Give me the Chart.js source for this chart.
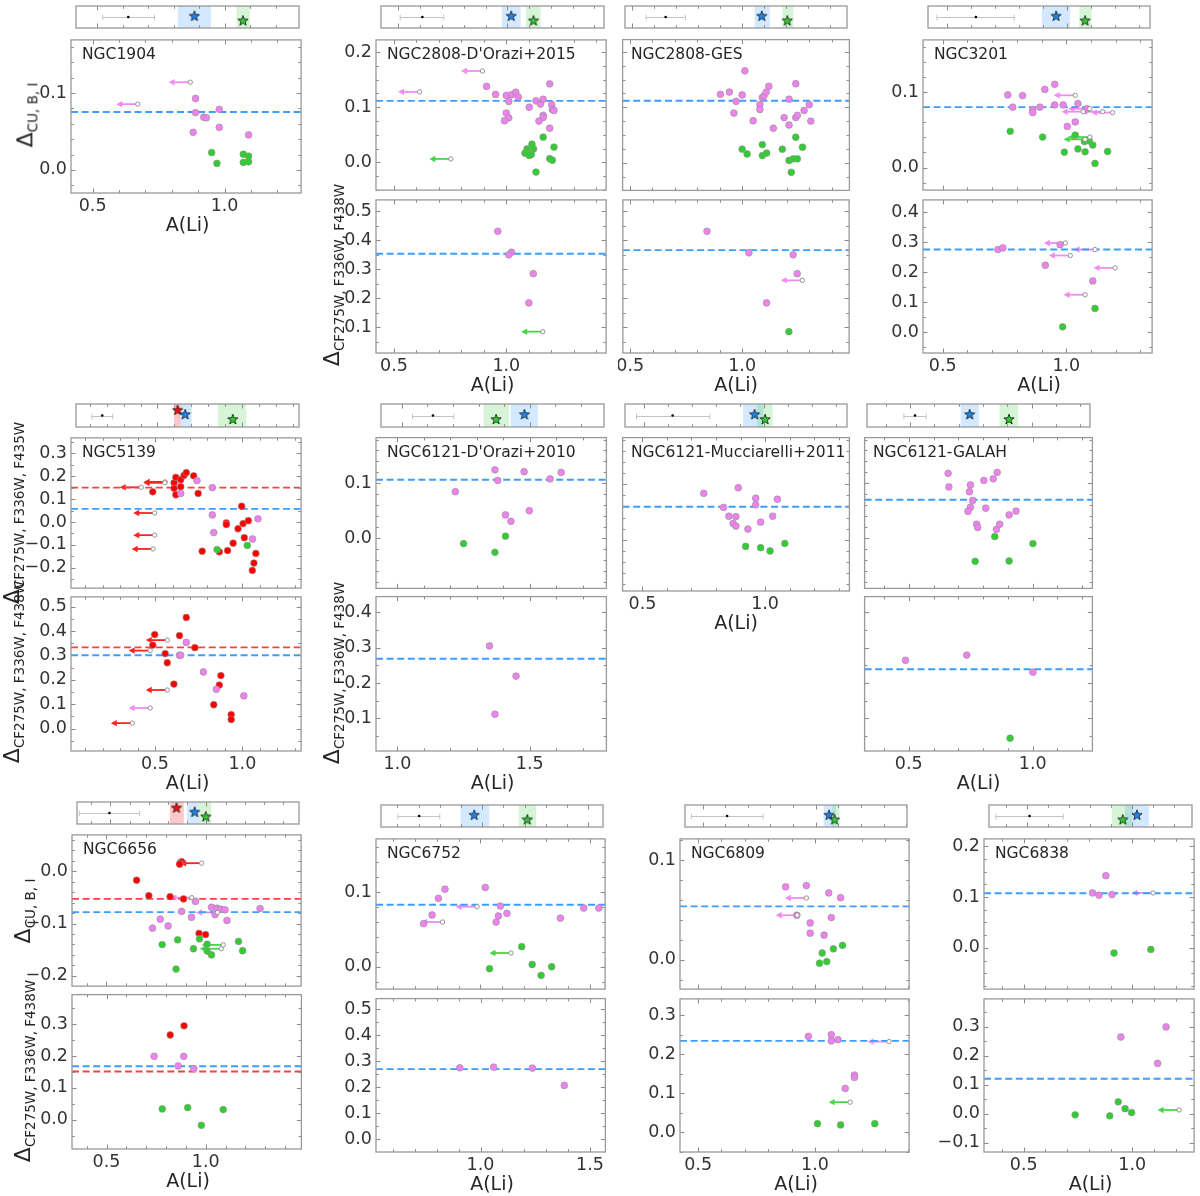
<!DOCTYPE html>
<html><head><meta charset="utf-8">
<script src="https://cdn.jsdelivr.net/npm/chart.js@4.4.1/dist/chart.umd.min.js"></script>
<style>
html,body{margin:0;padding:0;background:#fff;}
body{width:1200px;height:1196px;position:relative;overflow:hidden;font-family:"DejaVu Sans",sans-serif;}
canvas{position:absolute;}
.t{position:absolute;white-space:nowrap;color:#262626;line-height:1;}
.nm{font-size:15.5px;}
.xl{font-size:19px;transform:translateX(-50%);}
.yl{font-size:22px;transform:translate(-50%,-50%) rotate(-90deg);transform-origin:center;}
.yl sub{font-size:13.5px;vertical-align:-0.35em;}
</style></head><body>
<script>
// ================= DATA =================
// ---- NGC1904 ----
const n1904_xlim=[0.418,1.29], n1904_xticks=[0.5,1.0];
const n1904_ylim=[-0.030,0.169], n1904_yticks=[0.0,0.1];
const n1904_err=[0.5225,0.6225,0.725];
const n1904_blueBand=[0.816,0.946], n1904_blueStar=0.881;
const n1904_greenBand=[1.046,1.0975], n1904_greenStar=1.071;
const n1904_violet=[[0.89,0.0928],[0.89,0.0745],[0.921,0.0685],[0.931,0.0677],[0.881,0.0489],[0.98,0.0787],[0.98,0.0553],[1.091,0.0455]];
const n1904_green=[[0.951,0.0226],[0.971,0.0085],[1.071,0.0204],[1.091,0.0179],[1.071,0.0098],[1.091,0.0106]];
const n1904_violetLim=[[0.87,0.114],[0.671,0.0855]];
const n1904_blueLine=0.0753;

// ---- NGC2808 D'Orazi+2015 ----
const n2808d_xlim=[0.42,1.444], n2808d_xticks=[0.5,1.0];
const n2808_ylim=[-0.05,0.222], n2808_yticks=[0.0,0.1,0.2];
const n2808_lylim=[0.012,0.539], n2808_lyticks=[0.1,0.2,0.3,0.4,0.5];
const n2808d_err=[0.508,0.61,0.709];
const n2808d_blueBand=[0.975,1.061], n2808d_blueStar=1.018;
const n2808d_greenBand=[1.086,1.153], n2808d_greenStar=1.12;
const n2808d_violet=[[0.912,0.1378],[0.952,0.1233],[1.0,0.1215],[1.023,0.1227],[1.042,0.1273],[1.053,0.1186],[1.011,0.1105],[1.0,0.0895],[1.011,0.0808],[0.992,0.0756],[1.102,0.1],[1.132,0.1116],[1.152,0.1058],[1.164,0.1145],[1.164,0.0855],[1.164,0.0814],[1.145,0.075],[1.193,0.1424],[1.202,0.1047],[1.205,0.0959],[1.212,0.0942],[1.193,0.0622]];
const n2808d_green=[[1.164,0.0459],[1.212,0.0279],[1.114,0.0331],[1.092,0.0244],[1.121,0.0244],[1.083,0.0169],[1.111,0.0145],[1.102,0.0128],[1.132,-0.0174],[1.193,0.007],[1.205,0.0041]];
const n2808d_violetLim=[[0.894,0.1657],[0.614,0.1279]];
const n2808d_greenLim=[[0.753,0.0064]];
const n2808d_blueLine=0.1116;
const n2808d_lViolet=[[0.962,0.431],[1.023,0.359],[1.011,0.350],[1.12,0.285],[1.1,0.1845]];
const n2808d_lGreenLim=[[1.162,0.0854]];
const n2808d_lBlueLine=0.3535;

// ---- NGC2808 GES ----
const n2808g_xlim=[0.467,1.478], n2808g_xticks=[0.5,1.0];
const n2808g_err=[0.563,0.652,0.742];
const n2808g_blueBand=[1.057,1.127], n2808g_blueStar=1.09;
const n2808g_greenBand=[1.184,1.234], n2808g_greenStar=1.206;
const n2808g_violet=[[1.012,0.1657],[0.903,0.1233],[0.943,0.1273],[1.0,0.1221],[0.973,0.1105],[0.963,0.0895],[1.049,0.0756],[1.079,0.1047],[1.079,0.0959],[1.09,0.1174],[1.097,0.1203],[1.107,0.1273],[1.119,0.1378],[1.139,0.0622],[1.187,0.0814],[1.209,0.1145],[1.209,0.068],[1.239,0.1424],[1.239,0.0814],[1.246,0.0855],[1.276,0.0942],[1.299,0.1047],[1.306,0.075]];
const n2808g_green=[[1.0,0.0244],[1.022,0.0157],[1.09,0.0326],[1.09,0.0128],[1.109,0.0174],[1.179,0.0244],[1.239,0.0459],[1.269,0.0279],[1.209,0.0041],[1.228,0.007],[1.246,0.007],[1.219,-0.0174]];
const n2808g_blueLine=0.1116;
const n2808g_lViolet=[[0.843,0.431],[1.03,0.357],[1.228,0.350],[1.246,0.285],[1.109,0.1845]];
const n2808g_lGreen=[[1.209,0.0854]];
const n2808g_lVioletLim=[[1.269,0.262]];
const n2808g_lBlueLine=0.366;

// ---- NGC3201 ----
const n3201_xlim=[0.42,1.347], n3201_xticks=[0.5,1.0];
const n3201_ylim=[-0.0298,0.169], n3201_yticks=[0.0,0.1];
const n3201_lylim=[-0.0687,0.441], n3201_lyticks=[0.0,0.1,0.2,0.3,0.4];
const n3201_err=[0.457,0.62,0.78];
const n3201_blueBand=[0.895,1.013], n3201_blueStar=0.955;
const n3201_greenBand=[1.052,1.103], n3201_greenStar=1.076;
const n3201_violet=[[0.763,0.0962],[0.783,0.08],[0.823,0.0953],[0.864,0.0766],[0.864,0.0728],[0.893,0.08],[0.913,0.1034],[0.953,0.1102],[0.953,0.083],[0.987,0.083],[1.047,0.0847],[1.004,0.0545],[1.036,0.0604],[1.084,0.0779]];
const n3201_green=[[0.773,0.048],[0.904,0.0404],[1.036,0.043],[1.073,0.0345],[1.093,0.0353],[1.107,0.0298],[0.992,0.0204],[1.047,0.0247],[1.076,0.0209],[1.167,0.0213],[1.116,0.0055]];
const n3201_violetLim=[[1.036,0.0957],[1.095,0.0779],[1.068,0.074],[1.147,0.074],[1.187,0.0728]];
const n3201_greenLim=[[1.076,0.0374],[1.095,0.0404]];
const n3201_blueLine=0.08;
const n3201_lViolet=[[0.723,0.2757],[0.743,0.2812],[0.975,0.292],[0.915,0.2234],[1.107,0.171]];
const n3201_lGreen=[[0.985,0.0185],[1.116,0.0796]];
const n3201_lVioletLim=[[0.996,0.2975],[1.016,0.256],[1.116,0.2757],[1.197,0.2147],[1.076,0.1253]];
const n3201_lBlueLine=0.2757;

// ---- NGC5139 ----
const n5139_xlim=[0.019,1.336], n5139_xticks=[0.5,1.0];
const n5139_ylim=[-0.2885,0.367], n5139_yticks=[-0.2,-0.1,0.0,0.1,0.2,0.3];
const n5139_lylim=[-0.0914,0.540], n5139_lyticks=[0.0,0.1,0.2,0.3,0.4,0.5];
const n5139_err=[0.113,0.174,0.236];
const n5139_redBand=[0.598,0.638], n5139_redStar=0.619;
const n5139_blueBand=[0.638,0.702], n5139_blueStar=0.664;
const n5139_greenBand=[0.858,1.025], n5139_greenStar=0.945;
const n5139_red=[[0.487,0.1317],[0.609,0.1709],[0.609,0.147],[0.619,0.1947],[0.619,0.119],[0.647,0.1849],[0.647,0.154],[0.666,0.2031],[0.679,0.2157],[0.721,0.2017],[0.747,0.1246],[0.996,0.0686],[0.908,-0.0042],[0.908,-0.0112],[0.975,-0.0294],[1.004,-0.007],[1.034,0.0056],[1.011,-0.0686],[0.77,-0.1275],[0.868,-0.1303],[0.915,-0.1246],[0.947,-0.0924],[1.077,-0.1373],[1.066,-0.1793],[1.057,-0.2115]];
const n5139_violet=[[0.74,0.1807],[0.647,0.1246],[0.828,0.1499],[0.828,0.0308],[0.836,-0.0462],[1.089,0.014],[1.058,-0.0742]];
const n5139_green=[[0.855,-0.1204],[1.028,-0.1022]];
const n5139_redLim=[[0.558,0.175],[0.556,0.171],[0.421,0.1513],[0.498,0.0392],[0.498,-0.0574],[0.489,-0.1176]];
const n5139_redLine=0.1499, n5139_blueLine=0.0574;
const n5139_lRed=[[0.498,0.3858],[0.487,0.3427],[0.64,0.3817],[0.679,0.4556],[0.728,0.332],[0.558,0.3078],[0.57,0.2702],[0.608,0.1828],[0.877,0.2177],[0.868,0.1788],[0.836,0.0981],[0.936,0.0578],[0.936,0.0376]];
const n5139_lViolet=[[0.679,0.3535],[0.64,0.301],[0.647,0.301],[0.777,0.2325],[0.851,0.1613],[1.008,0.1344]];
const n5139_lRedLim=[[0.57,0.3629],[0.472,0.3199],[0.57,0.1586],[0.37,0.0228]];
const n5139_lVioletLim=[[0.472,0.0847]];
const n5139_lRedLine=0.3333, n5139_lBlueLine=0.301;

// ---- NGC6121 D'Orazi+2010 ----
const n6121d_xlim=[0.919,1.79], n6121d_xticks=[1.0,1.5];
const n6121_ylim=[-0.0918,0.1835], n6121_yticks=[0.0,0.1];
const n6121_lylim=[0.0083,0.4435], n6121_lyticks=[0.1,0.2,0.3,0.4];
const n6121d_err=[1.0425,1.122,1.2036];
const n6121d_greenBand=[1.3196,1.4188], n6121d_greenStar=1.3686;
const n6121d_blueBand=[1.4253,1.532], n6121d_blueStar=1.479;
const n6121d_violet=[[1.219,0.0847],[1.3686,0.1247],[1.379,0.1053],[1.479,0.1212],[1.577,0.1082],[1.619,0.12],[1.4085,0.0424],[1.429,0.0306],[1.4987,0.05]];
const n6121d_green=[[1.25,-0.01],[1.3686,-0.0259],[1.4085,0.0035]];
const n6121d_blueLine=0.1065;
const n6121d_lViolet=[[1.348,0.3046],[1.4485,0.2194],[1.3686,0.112]];
const n6121d_lBlueLine=0.2685;

// ---- NGC6121 Mucciarelli+2011 ----
const n6121m_xlim=[0.419,1.344], n6121m_xticks=[0.5,1.0];
const n6121m_err=[0.467,0.6175,0.773];
const n6121m_blueBand=[0.911,0.996], n6121m_blueStar=0.959;
const n6121m_greenBand=[0.9686,1.034], n6121m_greenStar=1.0027;
const n6121m_violet=[[0.75,0.0835],[0.8907,0.0935],[0.8306,0.0582],[0.8525,0.0424],[0.881,0.0418],[0.870,0.0294],[0.881,0.0247],[0.930,0.0194],[0.9617,0.0747],[0.9617,0.0629],[0.982,0.0318],[1.031,0.0424],[1.0505,0.0729]];
const n6121m_green=[[0.9208,-0.0118],[0.982,-0.0141],[1.0205,-0.02],[1.0806,-0.0065]];
const n6121m_blueLine=0.0594;

// ---- NGC6121 GALAH ----
const n6121g_xlim=[0.322,1.241], n6121g_xticks=[0.5,1.0];
const n6121g_err=[0.474,0.52,0.566];
const n6121g_blueBand=[0.708,0.783], n6121g_blueStar=0.745;
const n6121g_greenBand=[0.868,0.945], n6121g_greenStar=0.907;
const n6121g_violet=[[0.659,0.1182],[0.662,0.0935],[0.749,0.0971],[0.745,0.0847],[0.758,0.0688],[0.749,0.0565],[0.739,0.0488],[0.803,0.1053],[0.841,0.1082],[0.857,0.12],[0.8105,0.0547],[0.774,0.0253],[0.778,0.0194],[0.854,0.0159],[0.867,0.0253],[0.905,0.0424],[0.933,0.0494]];
const n6121g_green=[[0.847,0.0029],[1.001,-0.01],[0.768,-0.0424],[0.905,-0.0418]];
const n6121g_blueLine=0.07;
const n6121g_lViolet=[[0.487,0.2639],[0.734,0.2787],[1.001,0.2306]];
const n6121g_lGreen=[[0.909,0.0444]];
const n6121g_lBlueLine=0.2389;

// ---- NGC6656 ----
const n6656_xlim=[0.326,1.482], n6656_xticks=[0.5,1.0];
const n6656_ylim=[-0.2197,0.0695], n6656_yticks=[-0.2,-0.1,0.0];
const n6656_lylim=[-0.0918,0.3928], n6656_lyticks=[0.0,0.1,0.2,0.3];
const n6656_err=[0.338,0.495,0.652];
const n6656_redBand=[0.8096,0.882], n6656_redStar=0.844;
const n6656_blueBand=[0.899,0.9636], n6656_blueStar=0.9387;
const n6656_greenBand=[0.9636,1.0248], n6656_greenStar=0.9967;
const n6656_red=[[0.652,-0.0172],[0.7136,-0.0468],[0.821,-0.0486],[0.889,-0.0529],[0.879,0.0185],[0.872,0.0155],[0.869,0.0135],[0.967,-0.1188],[1.0,-0.1212]];
const n6656_violet=[[0.949,-0.0578],[0.879,-0.0769],[0.929,-0.088],[0.7715,-0.0917],[0.732,-0.1089],[0.811,-0.1046],[1.03,-0.0689],[1.058,-0.0708],[1.076,-0.0726],[1.098,-0.0738],[1.048,-0.0831],[1.108,-0.0942],[1.275,-0.0714]];
const n6656_green=[[0.781,-0.1403],[0.859,-0.1311],[0.969,-0.1292],[0.939,-0.1483],[1.008,-0.1397],[1.008,-0.1526],[1.03,-0.16],[1.166,-0.1342],[1.187,-0.152],[0.851,-0.1871]];
const n6656_redLim=[[0.98,0.0154]];
const n6656_violetLim=[[0.9305,-0.0505],[1.06,-0.0788]];
const n6656_greenLim=[[1.089,-0.1409],[1.079,-0.1483]];
const n6656_redLine=-0.0529, n6656_blueLine=-0.0782;
const n6656_lRed=[[0.821,0.266],[0.8907,0.2948]];
const n6656_lViolet=[[0.74,0.199],[0.889,0.199],[0.861,0.169],[0.94,0.16]];
const n6656_lGreen=[[0.781,0.034],[0.909,0.0381],[1.088,0.032],[0.978,-0.0175]];
const n6656_lBlueLine=0.168, n6656_lRedLine=0.1515;

// ---- NGC6752 ----
const n6752_xlim=[0.5225,1.5706], n6752_xticks=[1.0,1.5];
const n6752_ylim=[-0.0299,0.171], n6752_yticks=[0.0,0.1];
const n6752_lylim=[-0.049,0.5415], n6752_lyticks=[0.0,0.1,0.2,0.3,0.4,0.5];
const n6752_err=[0.602,0.7027,0.80];
const n6752_blueBand=[0.898,1.033], n6752_blueStar=0.9625;
const n6752_greenBand=[1.1727,1.255], n6752_greenStar=1.213;
const n6752_violet=[[0.740,0.0577],[0.779,0.0692],[0.808,0.0915],[0.838,0.1038],[1.0225,0.106],[1.0916,0.0812],[1.0826,0.0679],[1.072,0.0598],[1.1216,0.0714],[1.366,0.065],[1.473,0.0786],[1.542,0.0786]];
const n6752_green=[[1.042,-0.0026],[1.189,0.0269],[1.237,0.003],[1.278,-0.0115],[1.326,0.0]];
const n6752_violetLim=[[0.985,0.0803],[0.8273,0.0598]];
const n6752_greenLim=[[1.14,0.0184]];
const n6752_blueLine=0.0829;
const n6752_lViolet=[[0.9054,0.2751],[1.06,0.2776],[1.237,0.2739],[1.383,0.2073]];
const n6752_lBlueLine=0.27;

// ---- NGC6809 ----
const n6809_xlim=[0.4225,1.403], n6809_xticks=[0.5,1.0];
const n6809_ylim=[-0.0295,0.1212], n6809_yticks=[0.0,0.1];
const n6809_lylim=[-0.05,0.3417], n6809_lyticks=[0.0,0.1,0.2,0.3];
const n6809_err=[0.4507,0.6085,0.7676];
const n6809_blueBand=[1.035,1.0887], n6809_blueStar=1.059;
const n6809_greenBand=[1.073,1.1056], n6809_greenStar=1.083;
const n6809_violet=[[0.8746,0.0731],[0.9634,0.0744],[1.059,0.067],[1.11,0.0622],[1.07,0.0423],[0.980,0.0369],[0.980,0.0266],[1.0394,0.0247],[0.9225,0.0446]];
const n6809_green=[[1.031,0.0067],[1.079,0.0109],[1.118,0.0144],[1.0197,-0.0035],[1.0507,-0.0019]];
const n6809_violetLim=[[0.9634,0.0619],[0.924,0.0446]];
const n6809_blueLine=0.0535;
const n6809_lViolet=[[0.972,0.2458],[1.070,0.25],[1.070,0.2342],[1.0986,0.2375],[1.169,0.1467],[1.169,0.1408],[1.1296,0.1125]];
const n6809_lGreen=[[1.011,0.0225],[1.11,0.0192],[1.256,0.0225]];
const n6809_lVioletLim=[[1.317,0.2325]];
const n6809_lGreenLim=[[1.1507,0.0775]];
const n6809_lBlueLine=0.2342;

// ---- NGC6838 ----
const n6838_xlim=[0.317,1.285], n6838_xticks=[0.5,1.0];
const n6838_ylim=[-0.0811,0.2145], n6838_yticks=[0.0,0.1,0.2];
const n6838_lylim=[-0.1326,0.3955], n6838_lyticks=[-0.1,0.0,0.1,0.2,0.3];
const n6838_err=[0.35,0.5105,0.671];
const n6838_greenBand=[0.9024,1.0], n6838_greenStar=0.955;
const n6838_blueBand=[0.9655,1.0796], n6838_blueStar=1.0225;
const n6838_violet=[[0.8168,0.1082],[0.8468,0.1038],[0.8784,0.1421],[0.9069,0.105]];
const n6838_green=[[0.916,-0.0101],[1.0856,-0.0031]];
const n6838_violetLim=[[1.096,0.1082]];
const n6838_blueLine=0.1075;
const n6838_lViolet=[[0.9474,0.264],[1.156,0.2989],[1.117,0.173]];
const n6838_lGreen=[[0.737,-0.0045],[0.8964,-0.0079],[0.9354,0.0404],[0.967,0.0169],[0.997,0.0034]];
const n6838_lGreenLim=[[1.216,0.0124]];
const n6838_lBlueLine=0.1202;

// ================= STYLE =================
const PT_COLORS={violet:'#ee82ee', green:'#32cd32', red:'#ff0000'};
const ARROW_COLORS={violet:'#f08cf0', green:'#48d648', red:'#ff2020'};
const STAR_COLORS={blue:'#1e88f0', green:'#32cd32', red:'#ff1010'};
const LINE_COLORS={blue:'#3d9dff', red:'#ff4040'};
const BAND_COLORS={blue:'rgba(30,144,255,0.2)', green:'rgba(50,205,50,0.2)', red:'rgba(255,0,0,0.22)'};
const STAR_LEVEL={red:0.75, blue:0.56, green:0.35};
const ERR_LEVEL=0.5;
const FRAME_COLOR='#999999', TICK_COLOR='#8a8a8a', TEXT_COLOR='#333333';
const TICK_FONT={family:'DejaVu Sans', size:17.5};

// ================= LAYOUT =================
const R1={strip:[1,33], main:[37,193], lower:[197,353]};
const R2={strip:[399,432], main:[435,591], lower:[594,751]};
const R3a={strip:[797,829], main:[832,989], lower:[992,1149]};
const R3b={strip:[800,832], main:[836,992], lower:[996,1152]};

const PANELS=[
 {name:'NGC1904', cols:[71,304], rows:R1, xlim:n1904_xlim, xticks:n1904_xticks, err:n1904_err,
  bands:[['blue',n1904_blueBand],['green',n1904_greenBand]], stars:[['green',n1904_greenStar],['blue',n1904_blueStar]],
  main:{ylim:n1904_ylim, yticks:n1904_yticks, minor:0.02, yLab:true, xLab:true,
    pts:[['violet',n1904_violet],['green',n1904_green]], lims:[['violet',n1904_violetLim]], lines:[['blue',n1904_blueLine]]}},
 {name:"NGC2808-D'Orazi+2015", cols:[376,609], rows:R1, xlim:n2808d_xlim, xticks:n2808d_xticks, err:n2808d_err,
  bands:[['blue',n2808d_blueBand],['green',n2808d_greenBand]], stars:[['green',n2808d_greenStar],['blue',n2808d_blueStar]],
  main:{ylim:n2808_ylim, yticks:n2808_yticks, minor:0.025, yLab:true,
    pts:[['violet',n2808d_violet],['green',n2808d_green]], lims:[['violet',n2808d_violetLim],['green',n2808d_greenLim]], lines:[['blue',n2808d_blueLine]]},
  lower:{ylim:n2808_lylim, yticks:n2808_lyticks, minor:0.05, yLab:true, xLab:true,
    pts:[['violet',n2808d_lViolet]], lims:[['green',n2808d_lGreenLim]], lines:[['blue',n2808d_lBlueLine]]}},
 {name:'NGC2808-GES', cols:[620,852], rows:R1, xlim:n2808g_xlim, xticks:n2808g_xticks, err:n2808g_err,
  bands:[['blue',n2808g_blueBand],['green',n2808g_greenBand]], stars:[['green',n2808g_greenStar],['blue',n2808g_blueStar]],
  main:{ylim:n2808_ylim, yticks:n2808_yticks, minor:0.025,
    pts:[['violet',n2808g_violet],['green',n2808g_green]], lims:[], lines:[['blue',n2808g_blueLine]]},
  lower:{ylim:n2808_lylim, yticks:n2808_lyticks, minor:0.05, xLab:true,
    pts:[['violet',n2808g_lViolet],['green',n2808g_lGreen]], lims:[['violet',n2808g_lVioletLim]], lines:[['blue',n2808g_lBlueLine]]}},
 {name:'NGC3201', cols:[923,1155], rows:R1, xlim:n3201_xlim, xticks:n3201_xticks, err:n3201_err,
  bands:[['blue',n3201_blueBand],['green',n3201_greenBand]], stars:[['green',n3201_greenStar],['blue',n3201_blueStar]],
  main:{ylim:n3201_ylim, yticks:n3201_yticks, minor:0.02, yLab:true,
    pts:[['violet',n3201_violet],['green',n3201_green]], lims:[['violet',n3201_violetLim],['green',n3201_greenLim]], lines:[['blue',n3201_blueLine]]},
  lower:{ylim:n3201_lylim, yticks:n3201_lyticks, minor:0.05, yLab:true, xLab:true,
    pts:[['violet',n3201_lViolet],['green',n3201_lGreen]], lims:[['violet',n3201_lVioletLim]], lines:[['blue',n3201_lBlueLine]]}},
 {name:'NGC5139', cols:[71,304], rows:R2, xlim:n5139_xlim, xticks:n5139_xticks, err:n5139_err,
  bands:[['red',n5139_redBand],['blue',n5139_blueBand],['green',n5139_greenBand]], stars:[['green',n5139_greenStar],['blue',n5139_blueStar],['red',n5139_redStar]],
  main:{ylim:n5139_ylim, yticks:n5139_yticks, minor:0.05, yLab:true,
    pts:[['violet',n5139_violet],['green',n5139_green],['red',n5139_red]], lims:[['red',n5139_redLim]], lines:[['red',n5139_redLine],['blue',n5139_blueLine]]},
  lower:{ylim:n5139_lylim, yticks:n5139_lyticks, minor:0.05, yLab:true, xLab:true,
    pts:[['violet',n5139_lViolet],['red',n5139_lRed]], lims:[['red',n5139_lRedLim],['violet',n5139_lVioletLim]], lines:[['red',n5139_lRedLine],['blue',n5139_lBlueLine]]}},
 {name:"NGC6121-D'Orazi+2010", cols:[376,609], rows:R2, xlim:n6121d_xlim, xticks:n6121d_xticks, err:n6121d_err,
  bands:[['green',n6121d_greenBand],['blue',n6121d_blueBand]], stars:[['green',n6121d_greenStar],['blue',n6121d_blueStar]],
  main:{ylim:n6121_ylim, yticks:n6121_yticks, minor:0.02, yLab:true,
    pts:[['violet',n6121d_violet],['green',n6121d_green]], lims:[], lines:[['blue',n6121d_blueLine]]},
  lower:{ylim:n6121_lylim, yticks:n6121_lyticks, minor:0.05, yLab:true, xLab:true,
    pts:[['violet',n6121d_lViolet]], lims:[], lines:[['blue',n6121d_lBlueLine]]}},
 {name:'NGC6121-Mucciarelli+2011', cols:[620,852], rows:R2, xlim:n6121m_xlim, xticks:n6121m_xticks, err:n6121m_err,
  bands:[['blue',n6121m_blueBand],['green',n6121m_greenBand]], stars:[['green',n6121m_greenStar],['blue',n6121m_blueStar]],
  main:{ylim:n6121_ylim, yticks:n6121_yticks, minor:0.02, xLab:true,
    pts:[['violet',n6121m_violet],['green',n6121m_green]], lims:[], lines:[['blue',n6121m_blueLine]]}},
 {name:'NGC6121-GALAH', cols:[862,1095], rows:R2, xlim:n6121g_xlim, xticks:n6121g_xticks, err:n6121g_err,
  bands:[['blue',n6121g_blueBand],['green',n6121g_greenBand]], stars:[['green',n6121g_greenStar],['blue',n6121g_blueStar]],
  main:{ylim:n6121_ylim, yticks:n6121_yticks, minor:0.02,
    pts:[['violet',n6121g_violet],['green',n6121g_green]], lims:[], lines:[['blue',n6121g_blueLine]]},
  lower:{ylim:n6121_lylim, yticks:n6121_lyticks, minor:0.05, xLab:true,
    pts:[['violet',n6121g_lViolet],['green',n6121g_lGreen]], lims:[], lines:[['blue',n6121g_lBlueLine]]}},
 {name:'NGC6656', cols:[72,304], rows:R3a, xlim:n6656_xlim, xticks:n6656_xticks, err:n6656_err,
  bands:[['red',n6656_redBand],['blue',n6656_blueBand],['green',n6656_greenBand]], stars:[['green',n6656_greenStar],['blue',n6656_blueStar],['red',n6656_redStar]],
  main:{ylim:n6656_ylim, yticks:n6656_yticks, minor:0.02, yLab:true,
    pts:[['violet',n6656_violet],['green',n6656_green],['red',n6656_red]], lims:[['red',n6656_redLim],['violet',n6656_violetLim],['green',n6656_greenLim]], lines:[['red',n6656_redLine],['blue',n6656_blueLine]]},
  lower:{ylim:n6656_lylim, yticks:n6656_lyticks, minor:0.05, yLab:true, xLab:true,
    pts:[['violet',n6656_lViolet],['green',n6656_lGreen],['red',n6656_lRed]], lims:[], lines:[['blue',n6656_lBlueLine],['red',n6656_lRedLine]]}},
 {name:'NGC6752', cols:[376,608], rows:R3b, xlim:n6752_xlim, xticks:n6752_xticks, err:n6752_err,
  bands:[['blue',n6752_blueBand],['green',n6752_greenBand]], stars:[['green',n6752_greenStar],['blue',n6752_blueStar]],
  main:{ylim:n6752_ylim, yticks:n6752_yticks, minor:0.02, yLab:true,
    pts:[['violet',n6752_violet],['green',n6752_green]], lims:[['violet',n6752_violetLim],['green',n6752_greenLim]], lines:[['blue',n6752_blueLine]]},
  lower:{ylim:n6752_lylim, yticks:n6752_lyticks, minor:0.05, yLab:true, xLab:true,
    pts:[['violet',n6752_lViolet]], lims:[], lines:[['blue',n6752_lBlueLine]]}},
 {name:'NGC6809', cols:[680,912], rows:R3b, xlim:n6809_xlim, xticks:n6809_xticks, err:n6809_err,
  bands:[['blue',n6809_blueBand],['green',n6809_greenBand]], stars:[['green',n6809_greenStar],['blue',n6809_blueStar]],
  main:{ylim:n6809_ylim, yticks:n6809_yticks, minor:0.02, yLab:true,
    pts:[['violet',n6809_violet],['green',n6809_green]], lims:[['violet',n6809_violetLim]], lines:[['blue',n6809_blueLine]]},
  lower:{ylim:n6809_lylim, yticks:n6809_lyticks, minor:0.05, yLab:true, xLab:true,
    pts:[['violet',n6809_lViolet],['green',n6809_lGreen]], lims:[['violet',n6809_lVioletLim],['green',n6809_lGreenLim]], lines:[['blue',n6809_lBlueLine]]}},
 {name:'NGC6838', cols:[984,1197], rows:R3b, xlim:n6838_xlim, xticks:n6838_xticks, err:n6838_err,
  bands:[['green',n6838_greenBand],['blue',n6838_blueBand]], stars:[['green',n6838_greenStar],['blue',n6838_blueStar]],
  main:{ylim:n6838_ylim, yticks:n6838_yticks, minor:0.025, yLab:true,
    pts:[['violet',n6838_violet],['green',n6838_green]], lims:[['violet',n6838_violetLim]], lines:[['blue',n6838_blueLine]]},
  lower:{ylim:n6838_lylim, yticks:n6838_lyticks, minor:0.05, yLab:true, xLab:true,
    pts:[['violet',n6838_lViolet],['green',n6838_lGreen]], lims:[['green',n6838_lGreenLim]], lines:[['blue',n6838_lBlueLine]]}}
];

const YLABELS=[
 {x:27, y:115, sub:'CU, B, I'},
 {x:334, y:275, sub:'CF275W, F336W, F438W'},
 {x:14, y:513, sub:'CF275W, F336W, F435W'},
 {x:14, y:672, sub:'CF275W, F336W, F438W'},
 {x:334, y:673, sub:'CF275W, F336W, F438W'},
 {x:25, y:911, sub:'CU, B, I'},
 {x:25, y:1071, sub:'CF275W, F336W, F438W'}
];

// ================= HELPERS =================
function fmt(v){ if(Math.abs(v)<1e-9) return '0.0'; return (v<0?'\u2212':'')+Math.abs(v).toFixed(1); }
function steps(lim,step){ const out=[]; for(let k=Math.ceil(lim[0]/step-1e-6); k*step<=lim[1]+1e-9; k++) out.push(+(k*step).toFixed(5)); return out; }
function starImg(color){
  const s=14, c=document.createElement('canvas'); c.width=s; c.height=s;
  const g=c.getContext('2d'); const R=5.4, r=2.2; g.beginPath();
  for(let i=0;i<10;i++){ const a=-Math.PI/2+i*Math.PI/5, rr=(i%2)?r:R; g.lineTo(s/2+rr*Math.cos(a), s/2+0.6+rr*Math.sin(a)); }
  g.closePath(); g.fillStyle=color; g.fill(); g.lineWidth=0.8; g.strokeStyle='#111'; g.stroke();
  return c;
}
const STAR_IMGS={blue:starImg(STAR_COLORS.blue), green:starImg(STAR_COLORS.green), red:starImg(STAR_COLORS.red)};

function arrow(ctx,px,py,col){
  const len=21.5, hl=6, hw=3.2;
  ctx.strokeStyle=col; ctx.fillStyle=col; ctx.lineWidth=1.8;
  ctx.beginPath(); ctx.moveTo(px,py); ctx.lineTo(px-len+hl-0.5,py); ctx.stroke();
  ctx.beginPath(); ctx.moveTo(px-len,py); ctx.lineTo(px-len+hl,py-hw); ctx.lineTo(px-len+hl,py+hw); ctx.closePath(); ctx.fill();
}

function addText(cls,html,left,top){
  const d=document.createElement('div'); d.className='t '+cls; d.innerHTML=html;
  d.style.left=left+'px'; d.style.top=top+'px'; document.body.appendChild(d); return d;
}

function makeChart(c){
  const yLab=!!c.yLab, xLab=!!c.xLab;
  const L=yLab?52:2, B=xLab?24:2, T=2, R=2;
  const [x0,x1]=c.cols, [y0,y1]=c.rowsY;
  const W=x1-x0+L+R, H=y1-y0+T+B;
  const cv=document.createElement('canvas');
  cv.width=W; cv.height=H;
  cv.style.left=(x0-L)+'px'; cv.style.top=(y0-T)+'px'; cv.style.width=W+'px'; cv.style.height=H+'px';
  document.body.appendChild(cv);

  const datasets=[];
  if(c.strip){
    c.stars.forEach(([col,v])=>datasets.push({data:[{x:v,y:STAR_LEVEL[col]}], pointStyle:STAR_IMGS[col], pointRadius:6}));
    datasets.push({data:[{x:c.err[1],y:ERR_LEVEL}], pointRadius:1.3, pointBorderWidth:0, pointBackgroundColor:'#000'});
  } else {
    (c.lims||[]).forEach(([col,pts])=>datasets.push({data:pts.map(([x,y])=>({x,y})), pointRadius:2.2, pointBackgroundColor:'#fff', pointBorderColor:'#8a8a8a', pointBorderWidth:0.9}));
    (c.pts||[]).forEach(([col,pts])=>datasets.push({data:pts.map(([x,y])=>({x,y})), pointRadius:3.4, pointBackgroundColor:PT_COLORS[col], pointBorderColor:'#909090', pointBorderWidth:0.6}));
    (c.lines||[]).forEach(([col,v])=>datasets.push({data:[{x:c.xlim[0],y:v},{x:c.xlim[1],y:v}], showLine:true, borderColor:LINE_COLORS[col], borderWidth:1.9, borderDash:[7,3.6], pointRadius:0, fill:false}));
  }

  const deco={id:'deco',
    beforeDatasetsDraw(ch){
      const {ctx,chartArea:a,scales:{x,y}}=ch; ctx.save();
      if(c.strip){
        c.bands.forEach(([col,r])=>{ const xa=x.getPixelForValue(r[0]), xb=x.getPixelForValue(r[1]); ctx.fillStyle=BAND_COLORS[col]; ctx.fillRect(xa,a.top,xb-xa,a.bottom-a.top); });
        const py=Math.round(y.getPixelForValue(ERR_LEVEL))+0.5, xa=x.getPixelForValue(c.err[0]), xb=x.getPixelForValue(c.err[2]);
        ctx.strokeStyle='#c4c4c4'; ctx.lineWidth=1; ctx.beginPath();
        ctx.moveTo(xa,py); ctx.lineTo(xb,py); ctx.moveTo(xa,py-2.8); ctx.lineTo(xa,py+2.8); ctx.moveTo(xb,py-2.8); ctx.lineTo(xb,py+2.8); ctx.stroke();
      } else {
        (c.lims||[]).forEach(([col,pts])=>pts.forEach(([vx,vy])=>arrow(ctx,x.getPixelForValue(vx),y.getPixelForValue(vy),ARROW_COLORS[col])));
      }
      ctx.restore();
    },
    afterDraw(ch){
      const {ctx,chartArea:a,scales:{x,y}}=ch; ctx.save();
      ctx.strokeStyle=TICK_COLOR; ctx.lineWidth=1; ctx.beginPath();
      steps(c.xlim,0.1).forEach(v=>{ const big=Math.abs(v/0.5-Math.round(v/0.5))<1e-6; const l=big?4.5:2.8; const px=Math.round(x.getPixelForValue(v))+0.5;
        ctx.moveTo(px,a.top); ctx.lineTo(px,a.top+l); ctx.moveTo(px,a.bottom); ctx.lineTo(px,a.bottom-l); });
      if(!c.strip){
        steps(c.ylim,c.minor).forEach(v=>{ const big=c.yticks.some(t=>Math.abs(t-v)<1e-6); const l=big?4.5:2.8; const py=Math.round(y.getPixelForValue(v))+0.5;
          ctx.moveTo(a.left,py); ctx.lineTo(a.left+l,py); ctx.moveTo(a.right,py); ctx.lineTo(a.right-l,py); });
      }
      ctx.stroke();
      ctx.strokeStyle=FRAME_COLOR; ctx.lineWidth=1.3; ctx.strokeRect(a.left,a.top,a.right-a.left,a.bottom-a.top);
      ctx.restore();
    }
  };

  new Chart(cv,{type:'scatter', data:{datasets},
    options:{responsive:false, animation:false, events:[], devicePixelRatio:1,
      layout:{padding:{top:T,right:R,left:yLab?0:2,bottom:xLab?0:2}},
      plugins:{legend:{display:false}, tooltip:{enabled:false}},
      scales:{
        x:{type:'linear', min:c.xlim[0], max:c.xlim[1], display:xLab,
           grid:{display:false,drawTicks:false}, border:{display:false},
           ticks:{font:TICK_FONT, color:TEXT_COLOR, padding:3, maxRotation:0, autoSkip:false, callback:v=>fmt(v)},
           afterBuildTicks:s=>{ s.ticks=c.xticks.map(v=>({value:v})); },
           afterFit:s=>{ if(xLab) s.height=B; s.paddingLeft=0; s.paddingRight=0; }},
        y:{type:'linear', min:c.ylim[0], max:c.ylim[1], display:yLab,
           grid:{display:false,drawTicks:false}, border:{display:false},
           ticks:{font:TICK_FONT, color:TEXT_COLOR, padding:4, autoSkip:false, callback:v=>fmt(v)},
           afterBuildTicks:s=>{ s.ticks=(c.yticks||[]).map(v=>({value:v})); },
           afterFit:s=>{ if(yLab) s.width=L; s.paddingTop=0; s.paddingBottom=0; }}
      }},
    plugins:[deco]});
}

// ================= BUILD =================
PANELS.forEach(p=>{
  makeChart({strip:true, cols:p.cols, rowsY:p.rows.strip, xlim:p.xlim, xticks:p.xticks, ylim:[0,1], yticks:[], err:p.err, bands:p.bands, stars:p.stars});
  makeChart(Object.assign({cols:p.cols, rowsY:p.rows.main, xlim:p.xlim, xticks:p.xticks}, p.main));
  if(p.lower) makeChart(Object.assign({cols:p.cols, rowsY:p.rows.lower, xlim:p.xlim, xticks:p.xticks}, p.lower));
  addText('nm', p.name, p.cols[0]+11, p.rows.main[0]+10);
  const bottom = p.lower ? p.rows.lower[1] : p.rows.main[1];
  addText('xl', 'A(Li)', (p.cols[0]+p.cols[1])/2, bottom+22);
});
YLABELS.forEach(l=>addText('yl', '\u0394<sub>'+l.sub+'</sub>', l.x, l.y));
</script>
</body></html>
